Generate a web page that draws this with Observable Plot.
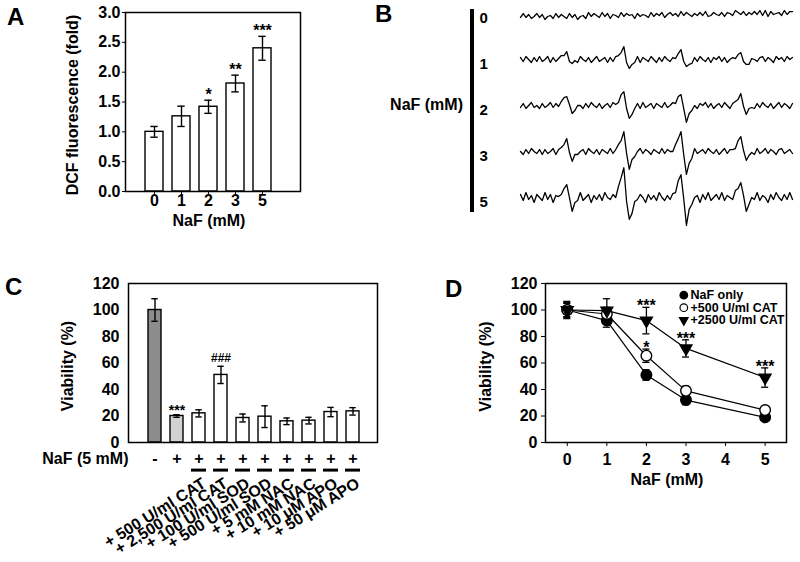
<!DOCTYPE html>
<html><head><meta charset="utf-8">
<script src="https://cdn.jsdelivr.net/npm/d3@7"></script>
<script src="https://cdn.jsdelivr.net/npm/@observablehq/plot@0.6"></script>
<style>
body{margin:0;background:#fff;}
#fig{position:relative;width:800px;height:562px;overflow:hidden;background:#fff;font-family:"Liberation Sans",Arial,Helvetica,sans-serif;font-weight:bold;color:#000;}
.panel{position:absolute;}
.panel svg{overflow:visible;display:block;}
</style></head><body><div id="fig"></div><script>
// ---------- Panel A: DCF fluorescence ----------
const aDoses = ["0", "1", "2", "3", "5"];
const aMeans = [1.00, 1.26, 1.42, 1.81, 2.40];
const aErrors = [0.09, 0.17, 0.11, 0.14, 0.20];
const aSig = ["", "", "*", "**", "***"];
const aTicks = [0, 0.5, 1, 1.5, 2, 2.5, 3];

// ---------- Panel B: ESR spectra (relative signal per sample) ----------
const bDoses = ["0", "1", "2", "3", "5"];
const bTrace0 = [-4,0,-4,-1,-5,-3,0,-4,-1,-6, -3,-2,-5,0,-4,-1,-3,-5,0,-4, -1,-6,-3,-2,-5,1,-3,0,-2,-4, 1,-3,0,-5,-1,-2,-4,1,-3,0, -2,-1,-5,0,-3,-1,-2,-4,1,-3, 0,-2,1,-4,-1,1,-2,0,-3,2, -2,1,-1,-3,0,-2,1,-2,2,-3, -2,1,-1,-2,1,-3,1,0,-2,3, 1,-1,2,-2,1,-1,2,-1,3,-2, 3,-3,2,-1,0,1,-2,3,-1,2, 2];
const bTrace1 = [2,-2,3,0,-3,2,-2,3,-2,0, 3,-3,2,-2,1,4,4,8,-2,-4, -1,-3,3,0,-2,2,-3,0,3,-2, 0,2,-3,2,-2,3,4,7,13,-3, -9,-5,-3,3,-3,2,0,-2,3,0, -3,2,-2,3,0,-2,2,1,6,10, -2,-7,-5,-4,2,-2,3,0,-2,2, -3,2,0,3,-2,2,-3,0,2,1, 5,7,-2,-5,-5,1,0,-2,2,3, -2,2,0,-3,3,0,2,-2,3,0, 2];
const bTrace2 = [-2,2,-3,0,3,-2,0,-3,2,-2, 0,3,-2,2,-1,4,8,9,1,-8, -5,0,0,-3,2,-2,3,0,-2,2, -3,0,2,-2,3,1,3,11,14,-3, -13,-9,-3,2,-3,3,-2,0,2,-3, 2,0,-2,3,-2,0,3,2,9,11, -3,-17,-8,-5,0,-3,2,0,3,-2, 2,-3,0,2,-2,3,0,-3,2,4, 6,12,-1,-9,-3,-2,-3,2,-2,3, 0,-2,2,-3,0,3,-2,2,0,-3, 2];
const bTrace3 = [0,-3,2,-2,3,0,-2,2,-3,2, -2,0,3,-3,2,4,7,13,-1,-10, -3,-3,0,2,-3,3,0,-2,2,-3, 2,0,-2,3,-2,2,7,11,20,-2, -18,-8,-5,0,3,-2,2,0,-3,2, 0,-2,3,-2,2,0,0,7,13,20, -3,-23,-12,-7,3,-2,0,2,-2,3, 0,-2,2,-3,0,3,-2,2,2,3, 11,15,1,-9,-4,-1,-3,3,-2,0, 3,-2,2,0,-3,2,3,-2,0,2, -2];
const bTrace5 = [3,-3,5,-2,2,-5,3,0,-3,5, -2,3,-5,2,1,3,9,13,0,-14, -5,-3,5,-3,0,3,-5,2,-2,3, -3,5,0,-2,3,0,11,20,30,-4, -22,-16,-4,-2,3,0,-5,3,-2,2, -3,5,0,-3,2,-2,4,5,17,23, -1,-28,-12,-7,0,2,-5,3,-2,5, -3,0,3,-2,5,-3,2,0,-2,7, 9,15,2,-14,-7,0,-2,5,-3,2, 0,-5,3,-2,5,0,-3,3,-2,5, -2];
const bTraces = [bTrace0, bTrace1, bTrace2, bTrace3, bTrace5];

// ---------- Panel C: viability with antioxidants ----------
const cGroups = ["control", "naf", "cat500", "cat2500", "sod100", "sod500", "nac5", "nac10", "apo10", "apo50"];
const cKinds = ["control", "naf", "treated", "treated", "treated", "treated", "treated", "treated", "treated", "treated"];
const cNaF = ["-", "+", "+", "+", "+", "+", "+", "+", "+", "+"];
const cLabels = ["", "", "+ 500 U/ml CAT", "+ 2,500 U/ml CAT", "+ 100 U/ml SOD", "+ 500 U/ml SOD", "+ 5 mM NAC", "+ 10 mM NAC", "+ 10 \u03bcM APO", "+ 50 \u03bcM APO"];
const cMeans = [100, 20, 22, 51, 18.5, 19.5, 16, 16.5, 23, 23.5];
const cErrors = [8.5, 1, 2.7, 6.5, 3, 8.2, 2.5, 2.5, 3.5, 2.8];
const cSig = ["", "***", "", "###", "", "", "", "", "", ""];
const cTicks = [0, 20, 40, 60, 80, 100, 120];

// ---------- Panel D: viability vs NaF with catalase ----------
const dDoses = [0, 1, 2, 3, 5];
const dSeriesNames = ["NaF only", "+500 U/ml CAT", "+2500 U/ml CAT"];
const dNaFOnly = [100, 92, 51, 32, 19];
const dNaFOnlyErr = [5.5, 5, 4, 3.5, 2];
const dCat500 = [100, 97, 65.5, 39, 24.5];
const dCat500Err = [5, 5, 5, 3.5, 2];
const dCat2500 = [100, 99.5, 92, 71, 49];
const dCat2500Err = [6.5, 9, 10, 6.5, 7.3];
const dSigSeries = ["+2500 U/ml CAT", "+500 U/ml CAT", "+2500 U/ml CAT", "+2500 U/ml CAT"];
const dSigDoses = [2, 2, 3, 5];
const dSigText = ["***", "*", "***", "***"];
const dXTicks = [0, 1, 2, 3, 4, 5];
const dYTicks = [0, 20, 40, 60, 80, 100, 120];

// ---------- styles ----------
const FONT = '"Liberation Sans", Arial, Helvetica, sans-serif';
const baseStyle = {fontFamily: FONT, fontSize: "16px", fontWeight: "bold", color: "black", background: "transparent", overflow: "visible"};
const cFill = {control: "#8c8c8c", naf: "#d2d2d2", treated: "#ffffff"};
const dMarker = {
  "NaF only": {symbol: "circle", fill: "black", stroke: "black", r: 5.3, rotate: 0, lr: 3.8},
  "+500 U/ml CAT": {symbol: "circle", fill: "white", stroke: "black", r: 5.3, rotate: 0, lr: 3.8},
  "+2500 U/ml CAT": {symbol: "triangle", fill: "black", stroke: "black", r: 4.4, rotate: 180, lr: 3.2}
};

const fig = document.getElementById("fig");
function panel(node, left, top) {
  const d = document.createElement("div");
  d.className = "panel"; d.style.left = left + "px"; d.style.top = top + "px";
  d.appendChild(node); fig.appendChild(d); return d;
}
function label(text, css) {
  const d = document.createElement("div");
  d.textContent = text;
  Object.assign(d.style, {position: "absolute", whiteSpace: "nowrap", fontWeight: "bold"}, css);
  fig.appendChild(d); return d;
}

// ---------- Panel A ----------
const aRows = aDoses.map((dose, i) => ({dose, mean: aMeans[i], err: aErrors[i], sig: aSig[i]}));
const plotA = Plot.plot({
  width: 310, height: 240, marginLeft: 125, marginRight: 10, marginTop: 12, marginBottom: 49,
  style: baseStyle,
  x: {type: "band", domain: aDoses, range: [139.2, 275.7], paddingInner: 0.35, paddingOuter: 0.175},
  y: {domain: [0, 3]},
  marks: [
    Plot.barY(aRows, {x: "dose", y: "mean", fill: "white", stroke: "black", strokeWidth: 1.4}),
    Plot.ruleX(aRows, {x: "dose", y1: d => d.mean - d.err, y2: d => d.mean + d.err, strokeWidth: 1.4}),
    Plot.tickY(aRows, {x: "dose", y: d => d.mean + d.err, insetLeft: 5.3, insetRight: 5.3, strokeWidth: 1.4}),
    Plot.tickY(aRows, {x: "dose", y: d => d.mean - d.err, insetLeft: 5.3, insetRight: 5.3, strokeWidth: 1.4}),
    Plot.frame({strokeWidth: 1.5}),
    Plot.axisY(aTicks, {tickSize: 3, tickPadding: 2, tickFormat: d => d.toFixed(1), label: null}),
    Plot.axisX({tickSize: 3, tickPadding: 0, label: null}),
    Plot.text(aRows, {x: "dose", y: d => d.mean + d.err, text: "sig", lineAnchor: "bottom", dy: 0, fontSize: 16}),
    Plot.text(["NaF (mM)"], {text: d => d, frameAnchor: "bottom", textAnchor: "middle", lineAnchor: "middle", dx: -4, dy: 29, fontSize: 16}),
    Plot.text(["DCF fluorescence (fold)"], {text: d => d, frameAnchor: "left", textAnchor: "middle", lineAnchor: "middle", rotate: -90, dx: -53, dy: 3, fontSize: 16})
  ]
});
panel(plotA, 0, 0);

// ---------- Panel B ----------
const bRows = bDoses.flatMap((dose, k) => bTraces[k].map((v, i) => ({dose, i, v})));
const plotB = Plot.plot({
  width: 330, height: 234, marginLeft: 50, marginRight: 8, marginTop: 2, marginBottom: 0,
  style: baseStyle,
  x: {domain: [0, 100], axis: null},
  y: {domain: [-36.3, 10.1], axis: null},
  fy: {domain: bDoses, padding: 0, axis: null},
  marks: [
    Plot.line(bRows, {x: "i", y: "v", fy: "dose", stroke: "black", strokeWidth: 1.3}),
    Plot.text(bDoses, {fy: d => d, y: () => 0, text: d => d, frameAnchor: "left", dx: -41, dy: 4.5, textAnchor: "start", lineAnchor: "middle", fontSize: 15})
  ]
});
panel(plotB, 470, 0);
const bBar = document.createElement("div");
Object.assign(bBar.style, {position: "absolute", left: "470px", top: "9px", width: "3.5px", height: "203px", background: "#000"});
fig.appendChild(bBar);
label("NaF (mM)", {right: "337px", top: "97px", fontSize: "16px", lineHeight: "16px"});

// ---------- Panel C ----------
const cRows = cGroups.map((group, i) => ({group, kind: cKinds[i], naf: cNaF[i], label: cLabels[i], mean: cMeans[i], err: cErrors[i], sig: cSig[i]}));
const plotC = Plot.plot({
  width: 400, height: 300, marginLeft: 128, marginRight: 23, marginTop: 21, marginBottom: 120,
  style: baseStyle,
  x: {type: "band", domain: cGroups, range: [139.2, 368.7], paddingInner: 0.4, paddingOuter: 0.2, axis: null},
  y: {domain: [0, 120]},
  marks: [
    Plot.barY(cRows, {x: "group", y: "mean", fill: d => cFill[d.kind], stroke: "black", strokeWidth: 1.4}),
    Plot.ruleX(cRows, {x: "group", y1: d => d.mean - d.err, y2: d => d.mean + d.err, strokeWidth: 1.4}),
    Plot.tickY(cRows, {x: "group", y: d => d.mean + d.err, insetLeft: 3.3, insetRight: 3.3, strokeWidth: 1.4}),
    Plot.tickY(cRows, {x: "group", y: d => d.mean - d.err, insetLeft: 3.3, insetRight: 3.3, strokeWidth: 1.4}),
    Plot.frame({strokeWidth: 1.5}),
    Plot.axisY(cTicks, {tickSize: 0, tickPadding: 9, label: null}),
    Plot.text(cRows.filter(d => d.sig.startsWith("*")), {x: "group", y: d => d.mean + d.err, text: "sig", lineAnchor: "bottom", fontSize: 14}),
    Plot.text(cRows.filter(d => d.sig.startsWith("#")), {x: "group", y: d => d.mean + d.err, text: "sig", lineAnchor: "bottom", dy: -4, fontSize: 12}),
    Plot.text(cRows, {x: "group", text: "naf", frameAnchor: "bottom", lineAnchor: "middle", dy: 16.6, fontSize: 16}),
    Plot.tickY(cRows.filter(d => d.label), {x: "group", y: () => 0, dy: 27.6, insetLeft: -1, insetRight: -1, strokeWidth: 3}),
    Plot.text(cRows.filter(d => d.label), {x: "group", text: "label", frameAnchor: "bottom", dx: 5, dy: 39.5, rotate: -32, textAnchor: "end", lineAnchor: "middle", fontSize: 16}),
    Plot.text(["NaF (5 mM)"], {text: d => d, frameAnchor: "bottom-left", dy: 16.6, textAnchor: "end", lineAnchor: "middle", fontSize: 16}),
    Plot.text(["Viability (%)"], {text: d => d, frameAnchor: "left", textAnchor: "middle", lineAnchor: "middle", rotate: -90, dx: -60.5, dy: 3, fontSize: 16})
  ]
});
panel(plotC, 0, 262);

// ---------- Panel D ----------
const dMeans = [dNaFOnly, dCat500, dCat2500];
const dErrs = [dNaFOnlyErr, dCat500Err, dCat2500Err];
const dRows = dSeriesNames.flatMap((series, s) => dDoses.map((dose, i) => ({series, dose, v: dMeans[s][i], e: dErrs[s][i]})));
const dSigRows = dSigText.map((text, k) => {
  const row = dRows.find(r => r.series === dSigSeries[k] && r.dose === dSigDoses[k]);
  return {dose: row.dose, top: row.v + row.e, text};
});
const capHalf = 0.09;
const dotMarks = dSeriesNames.map(name => {
  const m = dMarker[name];
  return Plot.dot(dRows.filter(d => d.series === name), {x: "dose", y: "v", symbol: m.symbol, r: m.r, fill: m.fill, stroke: m.stroke, strokeWidth: 1.4, rotate: m.rotate});
});
const legendMarks = dSeriesNames.flatMap((name, k) => {
  const m = dMarker[name];
  const dy = 11.7 + k * 12.5;
  return [
    Plot.dot([name], {frameAnchor: "top-left", dx: 138.3, dy, symbol: m.symbol, r: m.lr, fill: m.fill, stroke: m.stroke, strokeWidth: 1.2, rotate: m.rotate}),
    Plot.text([name], {text: d => d, frameAnchor: "top-left", dx: 145, dy, textAnchor: "start", lineAnchor: "middle", fontSize: 12.5})
  ];
});
const plotD = Plot.plot({
  width: 390, height: 240, marginLeft: 135, marginRight: 14, marginTop: 21, marginBottom: 60,
  style: baseStyle,
  x: {domain: [-0.55, 5.54]},
  y: {domain: [0, 120]},
  marks: [
    Plot.frame({strokeWidth: 1.5}),
    Plot.axisX(dXTicks, {tickSize: 4, tickPadding: 7, label: null}),
    Plot.axisY(dYTicks, {tickSize: 4, tickPadding: 4, label: null}),
    Plot.line(dRows, {x: "dose", y: "v", z: "series", stroke: "black", strokeWidth: 1.2}),
    Plot.ruleX(dRows, {x: "dose", y1: d => d.v - d.e, y2: d => d.v + d.e, strokeWidth: 1.3}),
    Plot.ruleY(dRows, {y: d => d.v + d.e, x1: d => d.dose - capHalf, x2: d => d.dose + capHalf, strokeWidth: 1.3}),
    Plot.ruleY(dRows, {y: d => d.v - d.e, x1: d => d.dose - capHalf, x2: d => d.dose + capHalf, strokeWidth: 1.3}),
    ...dotMarks,
    Plot.text(dSigRows, {x: "dose", y: "top", text: "text", lineAnchor: "bottom", dy: 4, fontSize: 16}),
    ...legendMarks,
    Plot.text(["NaF (mM)"], {text: d => d, frameAnchor: "bottom", textAnchor: "middle", lineAnchor: "middle", dx: 1, dy: 37.6, fontSize: 16}),
    Plot.text(["Viability (%)"], {text: d => d, frameAnchor: "left", textAnchor: "middle", lineAnchor: "middle", rotate: -90, dx: -60, dy: 3.5, fontSize: 16})
  ]
});
panel(plotD, 410, 262);

// ---------- panel letters ----------
label("A", {left: "7px", top: "5px", fontSize: "24px", lineHeight: "24px"});
label("B", {left: "375px", top: "2px", fontSize: "24px", lineHeight: "24px"});
label("C", {left: "5px", top: "275px", fontSize: "24px", lineHeight: "24px"});
label("D", {left: "445px", top: "277px", fontSize: "24px", lineHeight: "24px"});
</script></body></html>
